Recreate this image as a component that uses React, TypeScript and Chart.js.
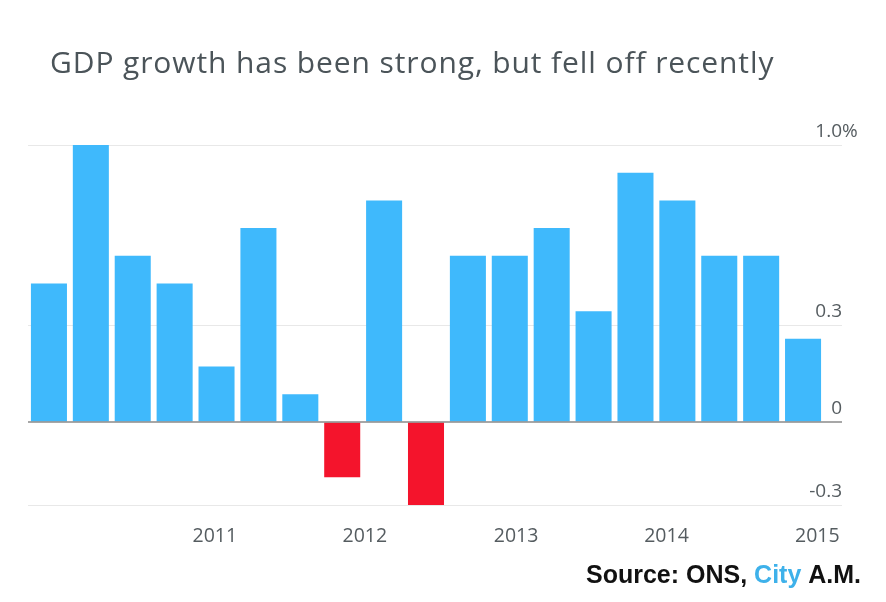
import React, { useEffect, useRef } from "react";
import { Chart, registerables, Plugin } from "chart.js";

Chart.register(...registerables);

// quarterly GDP growth, % on previous quarter
const quarters = [
  "2010 Q3", "2010 Q4",
  "2011 Q1", "2011 Q2", "2011 Q3", "2011 Q4",
  "2012 Q1", "2012 Q2", "2012 Q3", "2012 Q4",
  "2013 Q1", "2013 Q2", "2013 Q3", "2013 Q4",
  "2014 Q1", "2014 Q2", "2014 Q3", "2014 Q4",
  "2015 Q1",
];
const growth = [0.5, 1.0, 0.6, 0.5, 0.2, 0.7, 0.1, -0.2, 0.8, -0.3, 0.6, 0.6, 0.7, 0.4, 0.9, 0.8, 0.6, 0.6, 0.3];

// year labels sit between bars, given in bar-index units
const yearLabels = ["2011", "2012", "2013", "2014", "2015"];
const yearTickPositions = [3.96, 7.54, 11.15, 14.74, 18.34];

const yTickValues = [-0.3, 0, 0.35, 1.0];
const yTickLabels = ["-0.3", "0", "0.3", "1.0%"];

const TITLE = "GDP growth has been strong, but fell off recently";

const BLUE = "#3fb9fc";
const RED = "#f4142c";
const TEXT = "#555c60";

const overlay: Plugin<"bar"> = {
  id: "overlay",
  afterDatasetsDraw(chart) {
    const { ctx, chartArea } = chart;
    const x = chart.scales.x;
    const y = chart.scales.y;
    const lineEnd = 842;

    // zero line on top of the bars
    ctx.save();
    ctx.strokeStyle = "#8a8a8a";
    ctx.lineWidth = 1.5;
    ctx.beginPath();
    const y0 = y.getPixelForValue(0);
    ctx.moveTo(chartArea.left, y0);
    ctx.lineTo(lineEnd, y0);
    ctx.stroke();

    // y labels sit above their gridlines, at the right end
    ctx.font = "19px 'Open Sans'";
    ctx.fillStyle = TEXT;
    ctx.textBaseline = "middle";
    ctx.textAlign = "left";
    yTickValues.forEach((v, i) => {
      const label = yTickLabels[i];
      const w = ctx.measureText(label.replace("%", "")).width;
      ctx.fillText(label, lineEnd - w, y.getPixelForValue(v) - 13);
    });

    // year labels under the plot
    const p0 = x.getPixelForValue(0);
    const step = x.getPixelForValue(1) - p0;
    ctx.textAlign = "center";
    ctx.font = "19.5px 'Open Sans'";
    yearTickPositions.forEach((pos, i) => {
      ctx.fillText(yearLabels[i], p0 + pos * step, chartArea.bottom + 31);
    });
    ctx.restore();
  },
  afterDraw(chart) {
    const { ctx } = chart;
    ctx.save();
    ctx.font = "30px 'Open Sans'";
    (ctx as any).letterSpacing = "0.9px";
    ctx.fillStyle = "#4b5459";
    ctx.textBaseline = "alphabetic";
    ctx.textAlign = "left";
    ctx.fillText(TITLE, 50, 73);
    (ctx as any).letterSpacing = "0px";

    ctx.font = "bold 25px 'Liberation Sans'";
    let x = 586;
    const parts: [string, string][] = [
      ["Source: ONS, ", "#111111"],
      ["City", "#3eb1ea"],
      [" A.M.", "#111111"],
    ];
    parts.forEach(([t, c]) => {
      ctx.fillStyle = c;
      ctx.fillText(t, x, 583);
      x += ctx.measureText(t).width;
    });
    ctx.restore();
  },
};

const App: React.FC = () => {
  const canvasRef = useRef<HTMLCanvasElement | null>(null);
  const chartRef = useRef<Chart | null>(null);

  useEffect(() => {
    if (chartRef.current) {
      chartRef.current.destroy();
    }
    if (!canvasRef.current) return;

    chartRef.current = new Chart(canvasRef.current, {
      type: "bar",
      data: {
        labels: quarters,
        datasets: [
          {
            label: "GDP growth",
            data: growth,
            backgroundColor: growth.map((v) => (v < 0 ? RED : BLUE)),
            borderWidth: 0,
            barPercentage: 0.86,
            categoryPercentage: 1,
          },
        ],
      },
      options: {
        animation: false,
        responsive: true,
        maintainAspectRatio: false,
        layout: { padding: { left: 28, top: 145, right: 0, bottom: 97 } },
        plugins: {
          legend: { display: false },
          tooltip: { enabled: false },
          title: { display: false },
        },
        scales: {
          x: {
            type: "category",
            display: false,
          },
          y: {
            position: "right",
            min: -0.3,
            max: 1.0,
            afterBuildTicks: (scale) => {
              scale.ticks = yTickValues.map((v) => ({ value: v }));
            },
            afterFit: (scale) => {
              scale.width = 62;
            },
            grid: {
              color: (c) => (c.tick && c.tick.value === 0 ? "rgba(0,0,0,0)" : "#e8e8e8"),
              lineWidth: 1,
              drawTicks: true,
              tickLength: 18,
            },
            border: { display: false },
            ticks: { display: false },
          },
        },
      },
      plugins: [overlay],
    });

    return () => {
      if (chartRef.current) {
        chartRef.current.destroy();
        chartRef.current = null;
      }
    };
  }, []);

  return (
    <div style={{ position: "absolute", left: 0, top: 0, width: 886, height: 602, background: "#fff" }}>
      <canvas ref={canvasRef}></canvas>
    </div>
  );
};

export default App;
